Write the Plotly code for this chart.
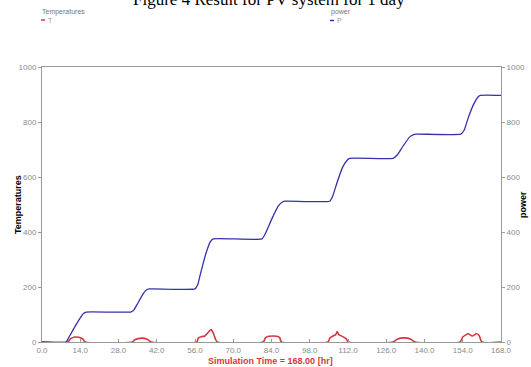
import plotly.graph_objects as go

# Power P (blue)
time_p = [0, 8.8, 10, 12, 14, 15.2, 16.2, 32.5, 33.6, 35, 37, 38.3, 39.2,
          56, 57, 58, 60, 61.5, 62.6, 80.5, 81.8, 84, 86.5, 88, 89,
          105.3, 106.4, 108, 110, 111.6, 112.6, 128.5, 130, 132, 134.5, 136, 137,
          153.3, 154.5, 156, 158, 159.5, 160.4, 168]
power = [0, 0, 20, 55, 88, 104, 109, 109, 116, 140, 175, 190, 193,
         193, 208, 248, 322, 362, 375, 375, 395, 445, 495, 509, 512,
         512, 530, 580, 635, 660, 668, 668, 680, 710, 745, 754, 756,
         756, 770, 815, 865, 890, 897, 897]

# Temperature T (red)
time_t = [0, 9.5, 10.5, 12, 13.5, 15, 15.8, 33, 34, 36.5, 38.5, 40,
          56.7, 57.2, 58.5, 59.5, 60.2, 61.9, 62.8, 63.5, 64.2,
          81, 81.8, 83, 86, 87, 87.6,
          104.7, 105.3, 106.5, 107.5, 108, 108.6, 110, 111.3, 112.1,
          128.5, 130, 132.5, 135, 136.5,
          153, 154, 155, 156, 157.5, 159, 160, 161, 168]
temp = [0, 0, 12, 18, 17, 10, 0, 0, 8, 14, 10, 0,
        0, 14, 20, 21, 28, 45, 30, 10, 0,
        0, 16, 21, 21, 16, 0,
        0, 14, 22, 27, 38, 27, 20, 12, 0,
        0, 10, 15, 10, 0,
        0, 18, 25, 30, 22, 30, 24, 0, 0]

x_ticks = [0, 14, 28, 42, 56, 70, 84, 98, 112, 126, 140, 154, 168]
x_tick_text = ["%.1f" % v for v in x_ticks]
y_ticks = [0, 200, 400, 600, 800, 1000]

RED = "#d8363c"
BLUE = "#3432ac"
GREY = "#8a8a8a"
TICKFONT = dict(family="Liberation Sans Narrow, Liberation Sans, Arial", size=8, color=GREY)

fig = go.Figure()
fig.add_trace(go.Scatter(x=time_t, y=temp, mode="lines", name="T",
                         line=dict(color=RED, width=1.6, shape="spline", smoothing=0.6)))
fig.add_trace(go.Scatter(x=time_p, y=power, mode="lines", name="P", yaxis="y2",
                         line=dict(color=BLUE, width=1.3, shape="spline", smoothing=0.4)))

axis_common = dict(showgrid=False, zeroline=False, showline=True, linecolor="#9a9a9a",
                   linewidth=1, ticklen=3, tickcolor="#9a9a9a",
                   tickfont=TICKFONT, automargin=False)

fig.update_layout(
    width=531, height=367,
    margin=dict(l=42, r=30, t=67, b=25),
    paper_bgcolor="white", plot_bgcolor="white",
    showlegend=False,
    xaxis=dict(range=[0, 168], tickvals=x_ticks, ticktext=x_tick_text, mirror=True,
               ticks="inside", **axis_common),
    yaxis=dict(range=[0, 1000], tickvals=y_ticks, ticks="outside", **axis_common),
    yaxis2=dict(range=[0, 1000], tickvals=y_ticks, overlaying="y", side="right",
                ticks="outside", **axis_common),
)

def py(pix):
    return (342 - pix) / 275.0

def px(pix):
    return (pix - 42) / 459.0

annotations = [
    dict(text="Figure 4 Result for PV system for 1 day", x=px(269), y=py(11), xref="paper", yref="paper",
         xanchor="center", yanchor="bottom", showarrow=False,
         font=dict(family="Liberation Serif, Times New Roman", size=17, color="black")),
    dict(text="Temperatures", x=px(40), y=py(12), xref="paper", yref="paper",
         xanchor="left", yanchor="middle", showarrow=False,
         font=dict(family="Liberation Sans", size=7, color="#777")),
    dict(text="T", x=px(46), y=py(20), xref="paper", yref="paper",
         xanchor="left", yanchor="middle", showarrow=False,
         font=dict(family="Liberation Sans", size=7, color="#999")),
    dict(text="power", x=px(329), y=py(12.5), xref="paper", yref="paper",
         xanchor="left", yanchor="middle", showarrow=False,
         font=dict(family="Liberation Sans", size=7, color="#777")),
    dict(text="P", x=px(335), y=py(20.5), xref="paper", yref="paper",
         xanchor="left", yanchor="middle", showarrow=False,
         font=dict(family="Liberation Sans", size=7, color="#999")),
    dict(text="<b>Temperatures</b>", x=px(18), y=py(205), xref="paper", yref="paper",
         xanchor="center", yanchor="middle", textangle=-90, showarrow=False,
         font=dict(family="Liberation Sans", size=9, color="black")),
    dict(text="<b>power</b>", x=px(523), y=py(205), xref="paper", yref="paper",
         xanchor="center", yanchor="middle", textangle=-90, showarrow=False,
         font=dict(family="Liberation Sans", size=9, color="black")),
    dict(text="<b>Simulation Time = 168.00 [hr]</b>", x=px(270), y=py(361), xref="paper", yref="paper",
         xanchor="center", yanchor="middle", showarrow=False,
         font=dict(family="Liberation Sans Narrow, Liberation Sans", size=9, color=RED)),
]
fig.update_layout(annotations=annotations)

fig.add_shape(type="line", xref="paper", yref="paper", x0=px(41), x1=px(45), y0=py(20), y1=py(20),
              line=dict(color=RED, width=1.5))
fig.add_shape(type="line", xref="paper", yref="paper", x0=px(330), x1=px(334), y0=py(20.5), y1=py(20.5),
              line=dict(color=BLUE, width=1.5))

fig.write_html("out.html", config={"displayModeBar": False},
               post_script="document.body.style.margin='0';document.body.style.overflow='hidden';")
